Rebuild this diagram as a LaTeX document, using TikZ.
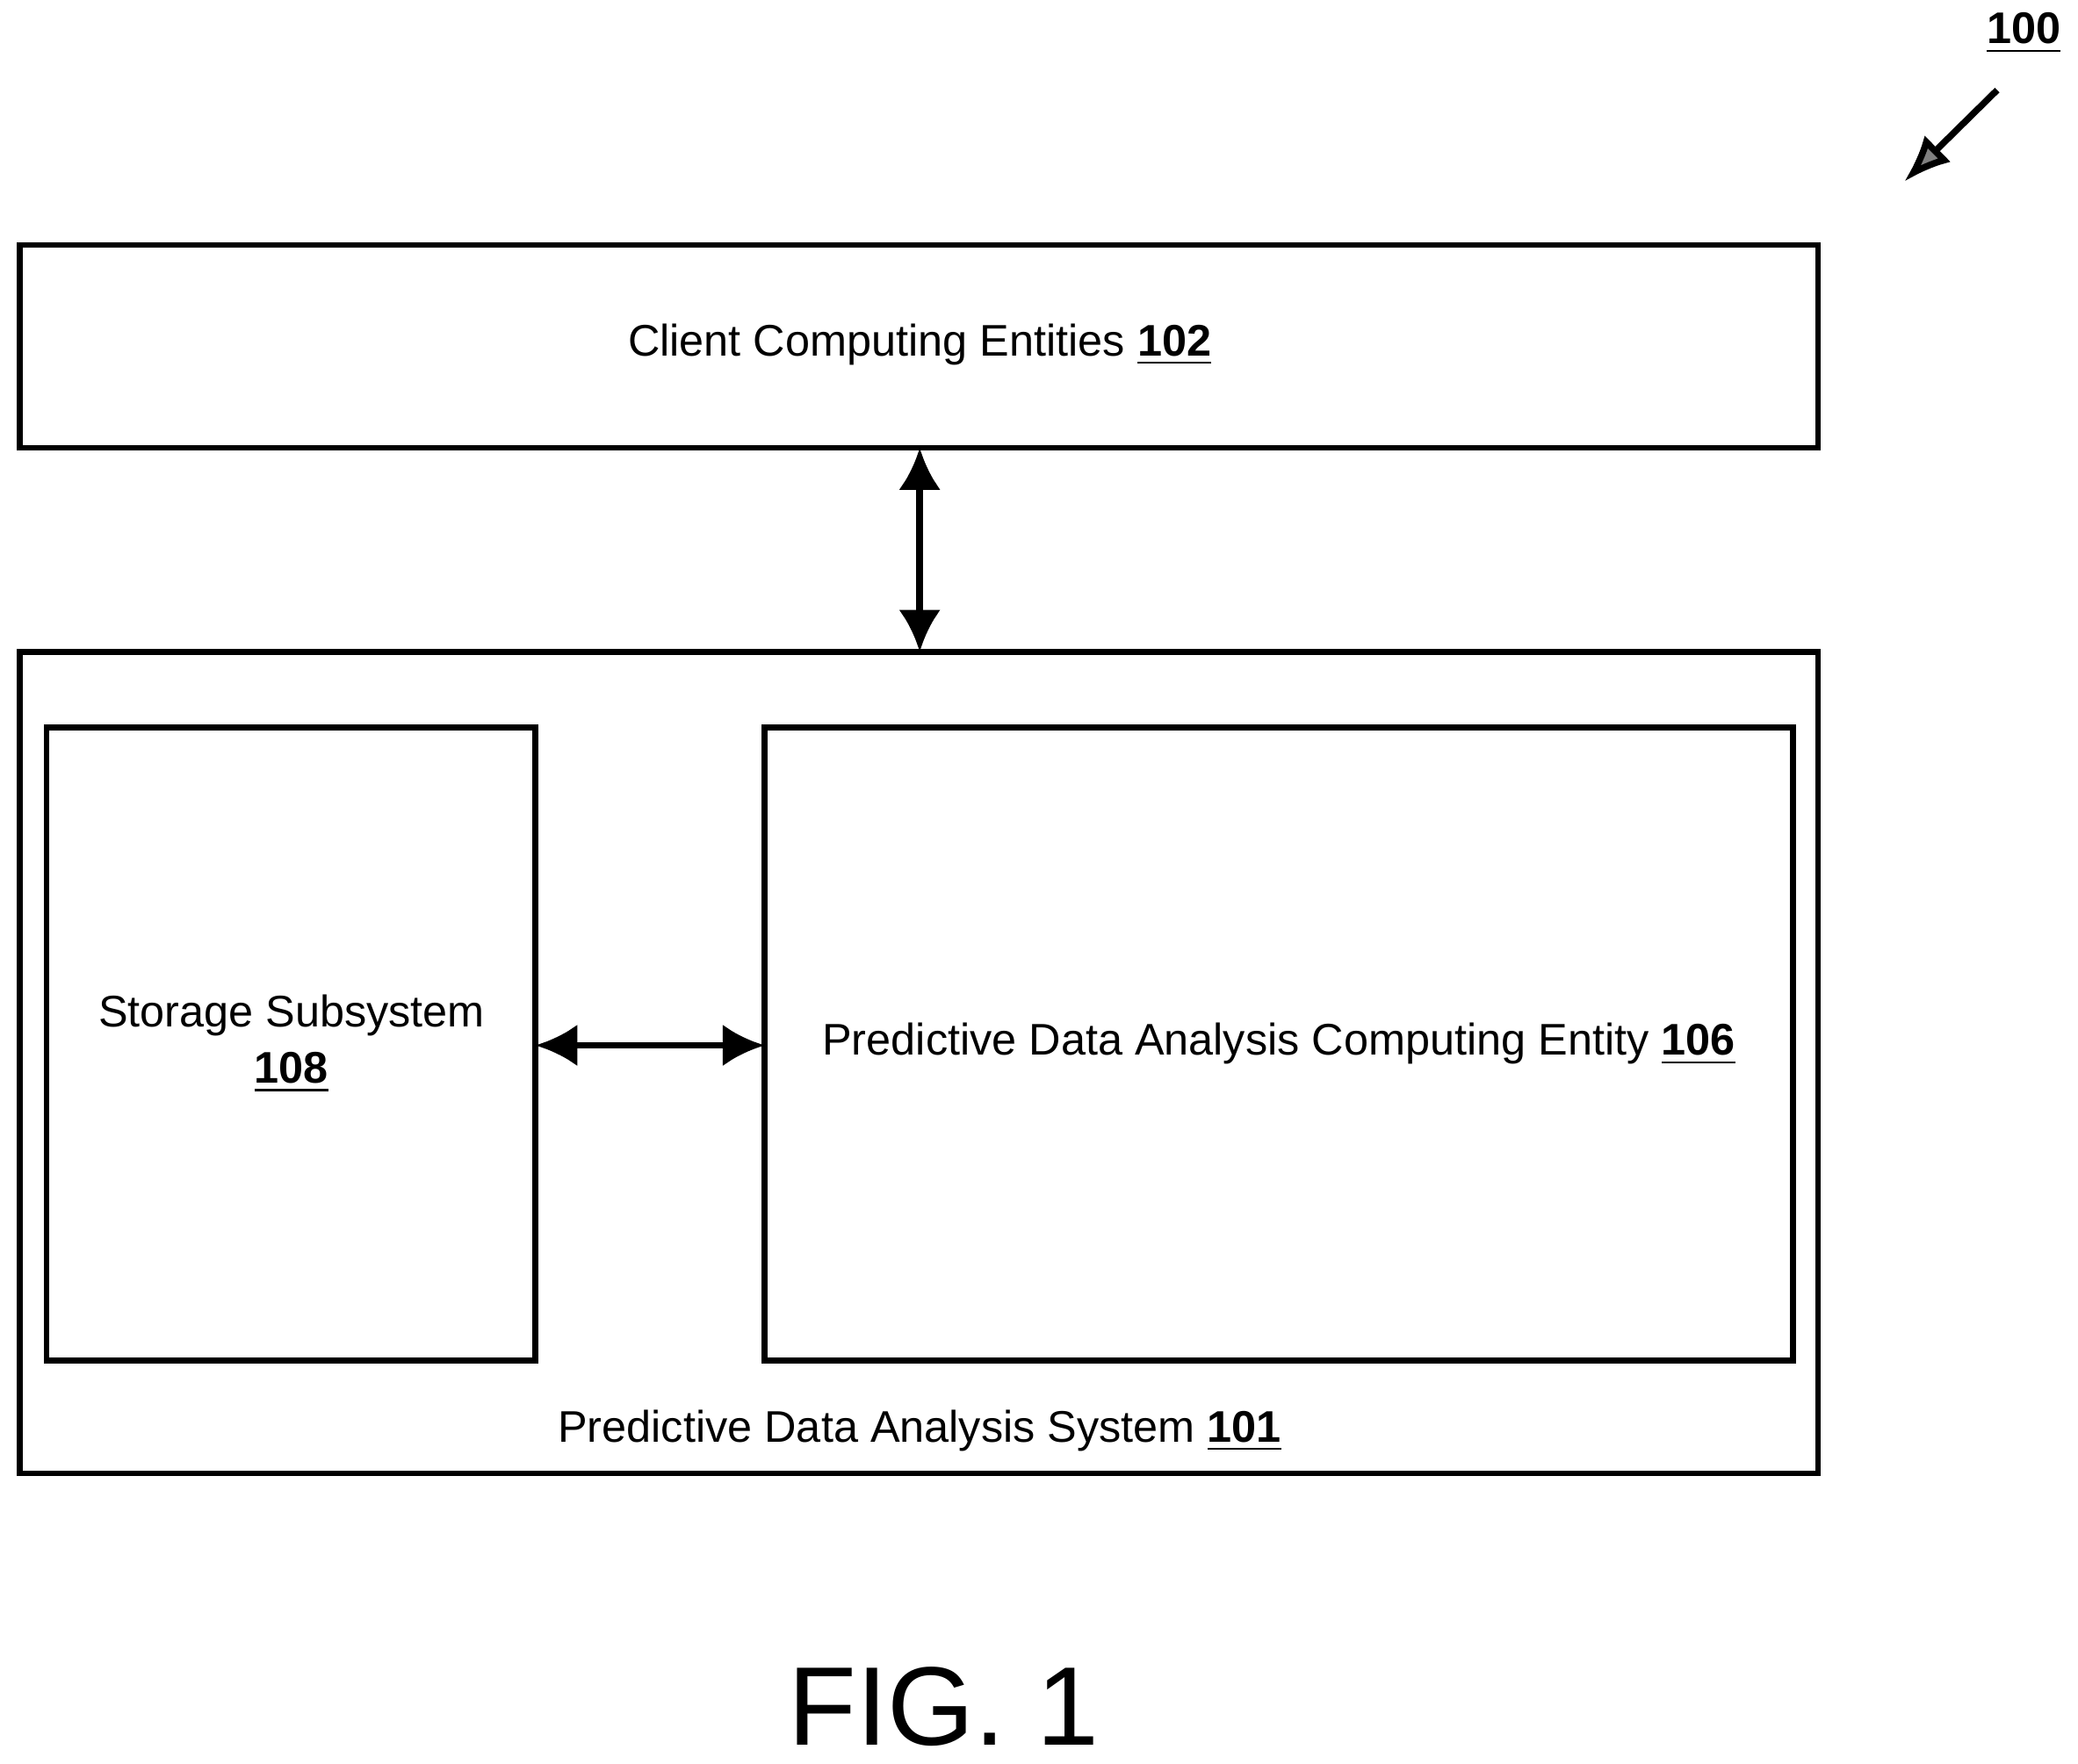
\documentclass[tikz,border=0pt]{standalone}
\usepackage{fontspec}
\setmainfont{Liberation Sans}
\usetikzlibrary{positioning,arrows.meta}
\newcommand{\refnum}[1]{\underline{\textbf{#1}}}
\begin{document}
\begin{tikzpicture}[x=0.01cm,y=-0.01cm,
        box/.style={draw,line width=1.2pt,inner sep=0pt},
        link/.style={{Latex[length=9pt,width=9pt]}-{Latex[length=9pt,width=9pt]},line width=1.4pt},
        lbl/.style={font=\fontsize{9.5pt}{12pt}\selectfont,align=center}]
\useasboundingbox (0,0) rectangle (1568,1331);

% boxes
\draw[box] (15,185) rectangle (1372,338);
\draw[box] (15,492) rectangle (1372,1112);
\draw[box] (35,549) rectangle (404,1027);
\draw[box] (577,549) rectangle (1353,1027);

\coordinate (client) at (694,338);
\coordinate (system) at (694,492);
\coordinate (store) at (404,789);
\coordinate (pdace) at (577,789);

% texts
\node[lbl] (clientlbl) at (694,260) {Client Computing Entities \refnum{102}};
\node[lbl] (storelbl) at (220,788) {Storage Subsystem\\\refnum{108}};
\node[lbl] (pdacelbl) at (965,788) {Predictive Data Analysis Computing Entity \refnum{106}};
\node[lbl] (systemlbl) at (694,1080) {Predictive Data Analysis System \refnum{101}};
\node[font=\fontsize{24pt}{26pt}\selectfont] (fig) at (712,1288) {FIG. 1};
\node[lbl] (ref) at (1527,25) {\refnum{100}};

% connectors
\draw[link] (client) -- (system);
\draw[link] (store) -- (pdace);
\coordinate (tail) at (1507,68);
\coordinate (head) at (1437,137);
\draw[line width=1.4pt,-{Latex[length=10pt,width=8pt,fill=gray]}] (tail) -- (head);
\end{tikzpicture}
\end{document}
